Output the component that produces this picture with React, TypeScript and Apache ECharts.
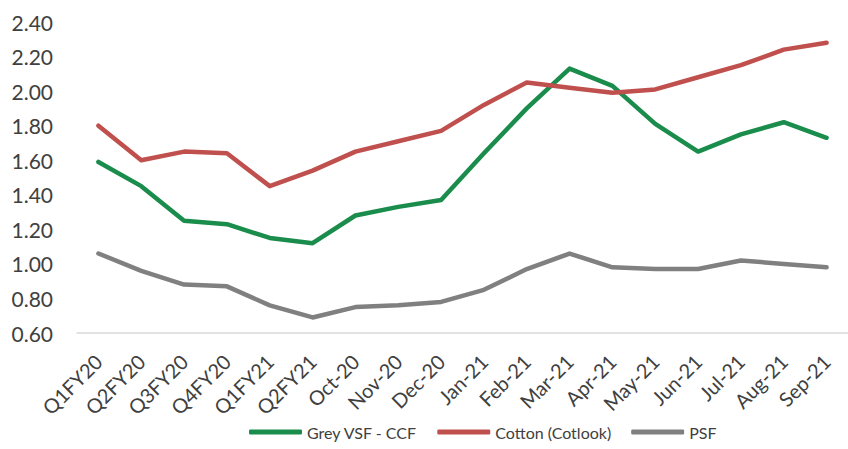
import React, { useEffect, useRef } from "react";
import * as echarts from "echarts";

const categories = ["Q1FY20", "Q2FY20", "Q3FY20", "Q4FY20", "Q1FY21", "Q2FY21", "Oct-20", "Nov-20", "Dec-20", "Jan-21", "Feb-21", "Mar-21", "Apr-21", "May-21", "Jun-21", "Jul-21", "Aug-21", "Sep-21"];
const greyVsf = [1.59, 1.45, 1.25, 1.23, 1.15, 1.12, 1.28, 1.33, 1.37, 1.64, 1.90, 2.13, 2.03, 1.81, 1.65, 1.75, 1.82, 1.73];
const cotton = [1.80, 1.60, 1.65, 1.64, 1.45, 1.54, 1.65, 1.71, 1.77, 1.92, 2.05, 2.02, 1.99, 2.01, 2.08, 2.15, 2.24, 2.28];
const psf = [1.06, 0.96, 0.88, 0.87, 0.76, 0.69, 0.75, 0.76, 0.78, 0.85, 0.97, 1.06, 0.98, 0.97, 0.97, 1.02, 1.00, 0.98];

const FONT = "Lato";
const TEXT = "#404040";

export default function App() {
  const ref = useRef<HTMLDivElement>(null);
  useEffect(() => {
    if (!ref.current) return;
    const chart = echarts.init(ref.current, null, { renderer: "svg" });
    const mk = (name: string, data: number[], color: string) => ({
      name,
      type: "line",
      data,
      symbol: "none",
      lineStyle: { color, width: 4.5, cap: "round", join: "round" },
      itemStyle: { color },
    });
    chart.setOption({
      animation: false,
      textStyle: { fontFamily: FONT },
      grid: { left: 77, right: 0, top: 22, bottom: 116 },
      xAxis: {
        type: "category",
        data: categories,
        boundaryGap: true,
        axisLine: { lineStyle: { color: "#d9d9d9", width: 1.5 } },
        axisTick: { show: false },
        axisLabel: { rotate: 45, color: TEXT, fontSize: 20, fontFamily: FONT, margin: 25, interval: 0 },
      },
      yAxis: {
        type: "value",
        min: 0.6,
        max: 2.4,
        interval: 0.2,
        splitLine: { show: false },
        axisLine: { show: false },
        axisLabel: { color: TEXT, fontSize: 21, fontFamily: FONT, margin: 24, formatter: (v: number) => v.toFixed(2) },
      },
      legend: {
        left: 249,
        top: 424,
        padding: 0,
        icon: "roundRect",
        itemWidth: 53,
        itemHeight: 5,
        itemGap: 20,
        textStyle: { color: TEXT, fontSize: 16, fontFamily: FONT, lineHeight: 16 },
        data: ["Grey VSF - CCF", "Cotton (Cotlook)", "PSF"],
      },
      series: [
        mk("Grey VSF - CCF", greyVsf, "#1a8c4b"),
        mk("Cotton (Cotlook)", cotton, "#c0504d"),
        mk("PSF", psf, "#808080"),
      ],
    });
    return () => chart.dispose();
  }, []);
  return <div ref={ref} style={{ position: "absolute", left: 0, top: 0, width: 848, height: 449 }} />;
}
